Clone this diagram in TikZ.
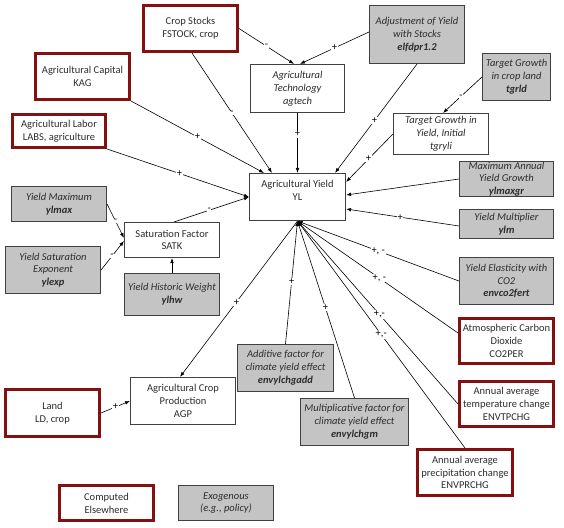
\documentclass[tikz,border=0pt]{standalone}
\usepackage{fontspec}
\setmainfont{Carlito}
\usetikzlibrary{arrows.meta}
\definecolor{dred}{RGB}{132,16,16}
\definecolor{bdr}{RGB}{64,64,64}
\definecolor{gfill}{RGB}{196,196,196}
\definecolor{txt}{RGB}{45,45,45}
\tikzset{
  base/.style={rectangle, align=center, font=\fontsize{10.5}{12.8}\selectfont, text=txt, inner sep=0.5pt},
  redbox/.style={base, draw=dred, line width=2.8pt, fill=white},
  wbox/.style={base, draw=bdr, line width=1.1pt, fill=white},
  wibox/.style={wbox, font=\fontsize{10.5}{12.8}\selectfont\itshape},
  gbox/.style={base, draw=bdr, line width=1.1pt, fill=gfill, font=\fontsize{10.5}{12.8}\selectfont\itshape},
  conn/.style={-{Latex[length=5pt,width=3.6pt]}, line width=0.6pt, draw=black},
  sgn/.style={fill=white, inner sep=0.6pt, font=\fontsize{10.5}{10}\selectfont, text=black},
}
\begin{document}
\begin{tikzpicture}[x=1pt,y=-1pt]
\fill[white] (0,0) rectangle (564,527);
\useasboundingbox (0,0) rectangle (564,527);
% computed elsewhere (red)
\node[redbox, minimum width=94.2pt, minimum height=46.2pt] (cs) at (190.5,28.5) {Crop Stocks\\FSTOCK, crop};
\node[redbox, minimum width=94.2pt, minimum height=46.2pt] (kag) at (82.5,76.5) {Agricultural Capital\\KAG};
\node[redbox, minimum width=93.2pt, minimum height=33.2pt] (labs) at (59,131) {Agricultural Labor\\LABS, agriculture};
\node[redbox, minimum width=94.2pt, minimum height=45.2pt] (co2) at (506.5,341) {Atmospheric Carbon\\Dioxide\\CO2PER};
\node[redbox, minimum width=94.2pt, minimum height=45.2pt] (envtp) at (506.5,404) {Annual average\\temperature change\\ENVTPCHG};
\node[redbox, minimum width=95.2pt, minimum height=46.2pt] (envpr) at (465,472.5) {Annual average\\precipitation change\\ENVPRCHG};
\node[redbox, minimum width=94.2pt, minimum height=47.2pt] (land) at (52.5,413) {Land\\LD, crop};
\node[redbox, minimum width=94.2pt, minimum height=35.2pt] (comp) at (106.5,503) {Computed\\Elsewhere};
% computed here (white)
\node[wibox, minimum width=94pt, minimum height=48pt] (agt) at (297.5,88.5) {Agricultural\\Technology\\agtech};
\node[wibox, minimum width=95pt, minimum height=41pt] (tgryli) at (441,134) {Target Growth in\\Yield, Initial\\tgryli};
\node[wbox, minimum width=96pt, minimum height=47pt] (yl) at (297.5,197) {};
\node[base] (yltext) at (297.5,190) {Agricultural Yield\\YL};
\node[wbox, minimum width=95pt, minimum height=35pt] (satk) at (172,240) {Saturation Factor\\SATK};
\node[wbox, minimum width=105pt, minimum height=47pt] (agp) at (183,401) {Agricultural Crop\\Production\\AGP};
% exogenous (gray)
\node[gbox, minimum width=95pt, minimum height=58pt] (adj) at (417,34.5) {Adjustment of Yield\\with Stocks\\\textbf{elfdpr1.2}};
\node[gbox, minimum width=68pt, minimum height=47pt] (tgrld) at (516.5,77) {Target Growth\\in crop land\\\textbf{tgrld}};
\node[gbox, minimum width=94pt, minimum height=35pt, font=\fontsize{10.5}{12.4}\selectfont\itshape] (ylmaxgr) at (506.5,179) {Maximum Annual\\Yield Growth\\\textbf{ylmaxgr}};
\node[gbox, minimum width=94pt, minimum height=29pt] (ylm) at (506.5,224) {Yield Multiplier\\\textbf{ylm}};
\node[gbox, minimum width=94pt, minimum height=47pt] (envco2) at (506.5,281) {Yield Elasticity with\\CO2\\\textbf{envco2fert}};
\node[gbox, minimum width=108pt, minimum height=47pt] (mult) at (354.5,422) {Multiplicative factor for\\climate yield effect\\\textbf{envylchgm}};
\node[gbox, minimum width=96pt, minimum height=47pt] (add) at (285.5,368) {Additive factor for\\climate yield effect\\\textbf{envylchgadd}};
\node[gbox, minimum width=95pt, minimum height=35pt] (ylmax) at (59,204) {Yield Maximum\\\textbf{ylmax}};
\node[gbox, minimum width=95pt, minimum height=47pt] (ylexp) at (53,270) {Yield Saturation\\Exponent\\\textbf{ylexp}};
\node[gbox, minimum width=95pt, minimum height=42pt] (ylhw) at (172,294.5) {Yield Historic Weight\\\textbf{ylhw}};
\node[gbox, minimum width=95pt, minimum height=35pt] (exo) at (226,503) {Exogenous\\(e.g., policy)};
% connectors
\draw[conn] (cs.east) -- node[sgn, pos=0.5] {-} ([xshift=-3.5pt]agt.north);
\draw[conn] ([yshift=2.5pt]adj.west) -- node[sgn, pos=0.5] {+} ([xshift=2.5pt]agt.north);
\draw[conn] ([xshift=1.5pt]cs.south) -- node[sgn, pos=0.5] {-} ([xshift=-25.5pt]yl.north);
\draw[conn] (kag.south east) -- node[sgn, pos=0.5] {+} ([xshift=-33.5pt]yl.north);
\draw[conn] (labs.south east) -- node[sgn, pos=0.51] {+} (yl.west);
\draw[conn] (agt.south) -- node[sgn, pos=0.35] {+} (yl.north);
\draw[conn] (adj.south) -- node[sgn, pos=0.52] {+} ([xshift=37.5pt]yl.north);
\draw[conn] (tgrld.west) -- node[sgn, pos=0.54] {-} ([xshift=2pt]tgryli.north);
\draw[conn] (tgryli.west) -- node[sgn, pos=0.52] {+} ([yshift=15pt]yl.east);
\draw[conn] (ylmaxgr.west) -- ([yshift=2pt]yl.east);
\draw[conn] ([yshift=-2pt]ylm.west) -- node[sgn, pos=0.52] {+} ([yshift=-12pt]yl.east);
\draw[conn] (envco2.west) -- node[sgn, pos=0.5] {+, -} (yl.south);
\draw[conn] ([yshift=8pt]co2.west) -- node[sgn, pos=0.49] {+, -} (yl.south);
\draw[conn] (envtp.west) -- node[sgn, pos=0.49] {+,-} (yl.south);
\draw[conn] (envpr.north) -- node[sgn, pos=0.5] {+,-} (yl.south);
\draw[conn] (add.north) -- node[sgn, pos=0.51] {+} (yl.south);
\draw[conn] (mult.north) -- node[sgn, pos=0.51] {+} (yl.south);
\draw[conn] (yl.south) -- node[sgn, pos=0.52] {+} ([xshift=-3pt]agp.north);
\draw[conn] (land.east) -- node[sgn, pos=0.5] {+} (agp.west);
\draw[conn] (ylmax.east) -- node[sgn, pos=0.5] {-} ([yshift=2pt]satk.west);
\draw[conn] (ylexp.east) -- node[sgn, pos=0.48] {-} ([yshift=-1pt]satk.west);
\draw[conn] (ylhw.north) -- (satk.south);
\draw[conn] ([xshift=2pt]satk.north) -- node[sgn, pos=0.47] {-} (yl.west);
\end{tikzpicture}
\end{document}
